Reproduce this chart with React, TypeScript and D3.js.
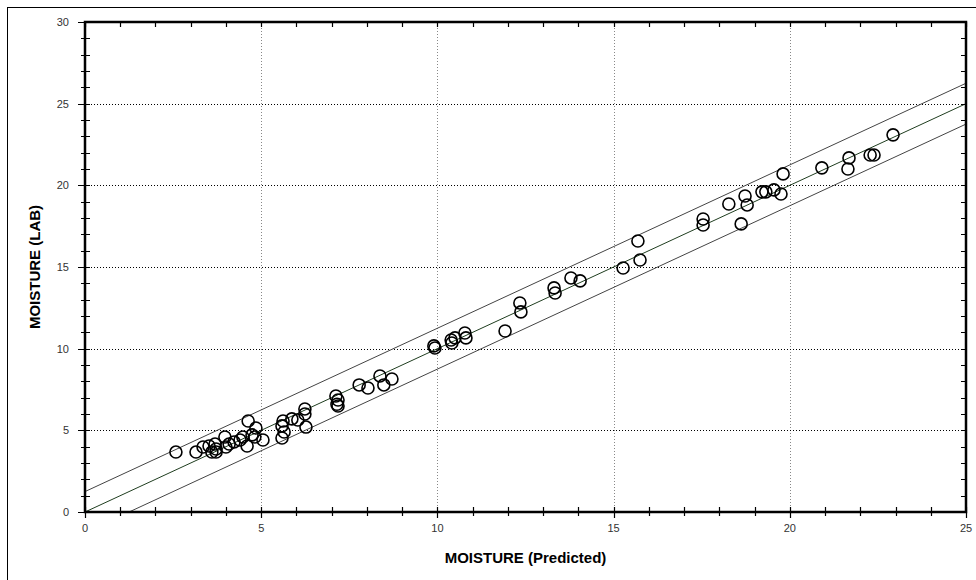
import React from 'react';
import * as d3 from 'd3';

// predicted vs lab moisture
const predicted = [
  2.58, 3.15, 3.35, 3.52, 3.6, 3.72, 3.69, 3.72, 3.97, 4.0, 4.09, 4.23, 4.4, 4.48, 4.63, 4.6, 4.74, 4.85,
  4.82, 5.05, 5.59, 5.59, 5.62, 5.65, 5.87, 6.04, 6.24, 6.24, 6.27, 7.12, 7.15, 7.18, 7.18, 7.78, 8.03,
  8.37, 8.48, 8.71, 9.9, 9.93, 10.39, 10.5, 10.41, 10.78, 10.81, 11.92, 12.34, 12.37, 13.31, 13.34, 13.79,
  14.05, 15.27, 15.69, 15.75, 17.54, 17.54, 18.27, 18.62, 18.73, 18.79, 19.21, 19.32, 19.55, 19.75, 19.81,
  20.91, 21.68, 21.65, 22.28, 22.39, 22.93,
];
const lab = [
  3.67, 3.67, 3.98, 4.04, 3.67, 3.86, 4.16, 3.67, 4.59, 3.98, 4.16, 4.29, 4.41, 4.59, 5.57, 4.04, 4.72, 5.14,
  4.59, 4.41, 5.27, 4.53, 5.57, 4.9, 5.7, 5.63, 6.31, 6.0, 5.2, 7.1, 6.6, 6.86, 6.49, 7.78, 7.59,
  8.33, 7.78, 8.14, 10.17, 10.04, 10.53, 10.66, 10.35, 10.96, 10.66, 11.08, 12.8, 12.25, 13.72, 13.41, 14.33,
  14.15, 14.94, 16.59, 15.43, 17.94, 17.57, 18.86, 17.64, 19.35, 18.8, 19.6, 19.6, 19.72, 19.47, 20.7,
  21.07, 21.68, 21.0, 21.86, 21.86, 23.09,
];

const xTicks = [0, 5, 10, 15, 20, 25];
const yTicks = [0, 5, 10, 15, 20, 25, 30];
const xMinor = d3.range(0, 26);
const yMinor = d3.range(0, 31);
const limitOffset = 1.25; // upper/lower limit lines

const left = 85, right = 966, top = 22, bottom = 512;
const font = 'Liberation Sans, Arial, sans-serif';

const App = () => {
  const x = d3.scaleLinear().domain([0, 25]).range([left, right]);
  const y = d3.scaleLinear().domain([0, 30]).range([bottom, top]);
  const line = d3.line<[number, number]>().x(d => x(d[0])).y(d => y(d[1]));
  const snap = (v: number) => Math.round(v) + 0.5;

  // all tick marks as one path
  const tickPath = d3.path();
  xMinor.forEach(v => {
    const px = snap(x(v));
    tickPath.moveTo(px, bottom - 5);
    tickPath.lineTo(px, bottom + (v % 5 === 0 ? 6 : 4));
    tickPath.moveTo(px, top);
    tickPath.lineTo(px, top + 5);
  });
  yMinor.forEach(v => {
    const py = snap(y(v));
    tickPath.moveTo(left - (v % 5 === 0 ? 7 : 4), py);
    tickPath.lineTo(left + 5, py);
    tickPath.moveTo(right - 5, py);
    tickPath.lineTo(right, py);
  });

  const gridX = d3.path();
  xTicks.slice(1, -1).forEach(t => {
    gridX.moveTo(snap(x(t)), top);
    gridX.lineTo(snap(x(t)), bottom);
  });
  const gridY = d3.path();
  yTicks.slice(1, -1).forEach(t => {
    gridY.moveTo(left, snap(y(t)));
    gridY.lineTo(right, snap(y(t)));
  });

  return (
    <svg
      width={976}
      height={580}
      style={{ position: 'absolute', left: 0, top: 0, background: '#fff' }}
    >
      {/* outer frame, cut off by the window */}
      <rect x={7.5} y={7.5} width={990} height={600} fill="none" stroke="#000" strokeWidth={1} />

      {/* grid */}
      <path d={gridX.toString()} fill="none" stroke="#888" strokeWidth={1} strokeDasharray="1,2" />
      <path d={gridY.toString()} fill="none" stroke="#000" strokeWidth={1} strokeDasharray="1,2" />

      {/* fit and limit lines */}
      <path d={line([[0, 0], [25, 25]]) || ''} fill="none" stroke="#1f3d1f" strokeWidth={1} />
      <path d={line([[0, limitOffset], [25, 25 + limitOffset]]) || ''} fill="none" stroke="#444" strokeWidth={1} />
      <path d={line([[limitOffset, 0], [25, 25 - limitOffset]]) || ''} fill="none" stroke="#444" strokeWidth={1} />

      {/* points */}
      {predicted.map((p, i) => (
        <circle key={'p' + i} cx={x(p)} cy={y(lab[i])} r={6}
          fill="none" stroke="#000" strokeWidth={1.6} />
      ))}

      {/* plot frame */}
      <rect x={left} y={top} width={right - left} height={bottom - top}
        fill="none" stroke="#000" strokeWidth={2.5} />

      {/* ticks */}
      <path d={tickPath.toString()} fill="none" stroke="#000" strokeWidth={1.2} />

      {/* tick labels */}
      {xTicks.map(t => (
        <text key={'lx' + t} x={x(t)} y={bottom + 20} textAnchor="middle"
          fontFamily={font} fontSize={11} fill="#333">{t}</text>
      ))}
      {yTicks.map(t => (
        <text key={'ly' + t} x={left - 16} y={y(t) + 4} textAnchor="end"
          fontFamily={font} fontSize={11} fill="#333">{t}</text>
      ))}

      {/* axis titles */}
      <text x={(left + right) / 2} y={563} textAnchor="middle" fontFamily={font}
        fontSize={15} fontWeight="bold" fill="#000">MOISTURE (Predicted)</text>
      <text transform={`translate(40,${(top + bottom) / 2}) rotate(-90)`} textAnchor="middle"
        fontFamily={font} fontSize={15} fontWeight="bold" fill="#000">MOISTURE (LAB)</text>
    </svg>
  );
};

export default App;
